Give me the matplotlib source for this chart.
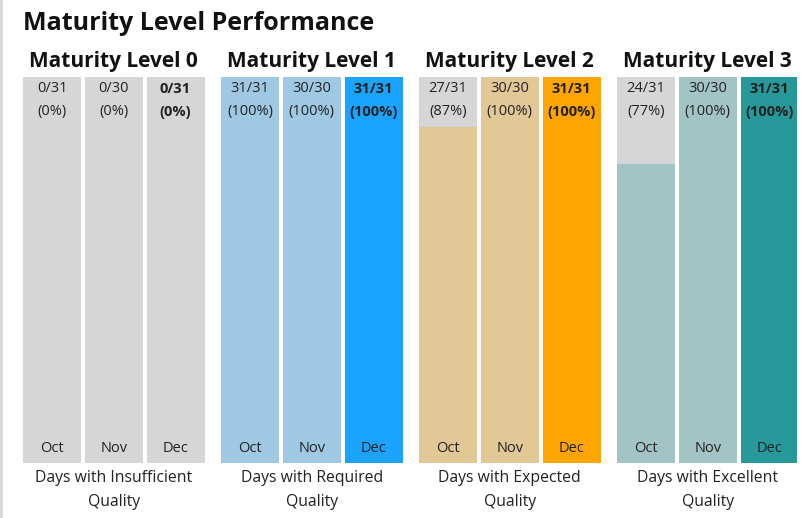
import matplotlib
matplotlib.use("Agg")
import matplotlib.pyplot as plt
from matplotlib.patches import Rectangle

W, H = 809, 518
plt.rcParams['font.family'] = ['Open Sans', 'DejaVu Sans']

title = "Maturity Level Performance"
levels = ["Maturity Level 0", "Maturity Level 1", "Maturity Level 2", "Maturity Level 3"]
months = ["Oct", "Nov", "Dec"]
days_total = [31, 30, 31]
good_days = [
    [0, 0, 0],
    [31, 30, 31],
    [27, 30, 31],
    [24, 30, 31],
]
categories = ["Days with Insufficient\nQuality", "Days with Required\nQuality",
              "Days with Expected\nQuality", "Days with Excellent\nQuality"]
light_colors = ["#d6d6d6", "#9fc8e3", "#e2c797", "#a3c4c4"]
dark_colors = ["#d6d6d6", "#1aa3ff", "#ffa500", "#27999b"]
bg_color = "#d6d6d6"

fig = plt.figure(figsize=(W / 100, H / 100), dpi=100)
fig.patch.set_facecolor("white")

def fx(x):
    return x / W

def fy(y):
    return 1 - y / H

# left border
fig.add_artist(Rectangle((0, 0), fx(2.5), 1, transform=fig.transFigure,
                         facecolor="#d9d9d9", edgecolor="none"))

left, right, top, bottom = 23, 797, 77, 463
ax = fig.add_axes([fx(left), fy(bottom), fx(right - left), (bottom - top) / H])
ax.set_xlim(left, right)
ax.set_ylim(0, 100)
ax.axis("off")

bar_w = 58
pitch = 61.75
group_step = 198

for g, lvl in enumerate(levels):
    gx0 = left + g * group_step
    for m, mon in enumerate(months):
        cx = gx0 + bar_w / 2 + m * pitch
        pct = good_days[g][m] / days_total[m] * 100
        col = dark_colors[g] if m == 2 else light_colors[g]
        ax.bar(cx, 100, width=bar_w, color=bg_color, linewidth=0)
        ax.bar(cx, pct, width=bar_w, color=col, linewidth=0)
        bold = "bold" if m == 2 else "normal"
        ax.text(cx, 100 - 12 / 386 * 100, f"{good_days[g][m]}/{days_total[m]}",
                ha="center", va="center", fontsize=10.5, fontweight=bold, color="#222222")
        ax.text(cx, 100 - 35 / 386 * 100, f"({round(pct)}%)",
                ha="center", va="center", fontsize=10.5, fontweight=bold, color="#222222")
        ax.text(cx, 15 / 386 * 100, mon, ha="center", va="center", fontsize=10.5,
                color="#222222")
    gcx = gx0 + bar_w / 2 + pitch
    fig.text(fx(gcx), fy(61), lvl, ha="center", va="center", fontsize=15,
             fontweight="bold", color="#111111")
    fig.text(fx(gcx), fy(490), categories[g], ha="center", va="center",
             fontsize=11.3, color="#222222", linespacing=1.75)

fig.text(fx(23), fy(24), title, ha="left", va="center", fontsize=18,
         fontweight="bold", color="#111111")

fig.savefig("out.png", dpi=100)
